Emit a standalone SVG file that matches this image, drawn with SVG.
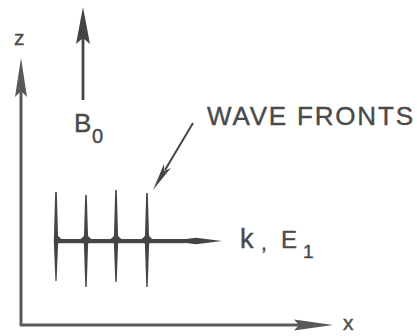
<svg xmlns="http://www.w3.org/2000/svg" width="417" height="336" viewBox="0 0 417 336">
<style>
.ink{fill:#454545}
.axis{stroke:#595959;stroke-width:3;fill:none}
.axhead{fill:#595959}
.txt{font-family:"Liberation Sans",Arial,sans-serif;fill:#4a4a4a;stroke:#4a4a4a;stroke-width:0.4}
</style>
<defs>
<g id="junc" class="ink">
<path d="M-12,0 A12,12 0 0 0 0,-12 L0,0Z"/>
<path d="M12,0 A12,12 0 0 1 0,-12 L0,0Z"/>
<path d="M-8,0 A8,8 0 0 1 0,8 L0,0Z"/>
<path d="M8,0 A8,8 0 0 0 0,8 L0,0Z"/>
</g>
</defs>
<rect width="417" height="336" fill="#ffffff"/>
<g id="connectors">
<g id="z-axis">
<line class="axis" x1="21" y1="326" x2="21" y2="90"/>
<polygon class="axhead" points="21,58 27,97 21,91 15,97"/>
</g>
<g id="x-axis">
<line class="axis" x1="20" y1="325" x2="300" y2="325"/>
<polygon class="axhead" points="333,325 294,319.5 299,325 294,330.5"/>
</g>
<g id="b0-arrow">
<line x1="83" y1="100" x2="83" y2="38" stroke="#454545" stroke-width="2.8"/>
<polygon class="ink" points="83,7 90,44 83,38 76,44"/>
</g>
<g id="leader">
<line x1="193" y1="123" x2="165" y2="170" stroke="#454545" stroke-width="2"/>
<polygon class="ink" points="153,190 164,164 164.3,171.1 170.8,168.1"/>
</g>
</g>
<g id="wave">
<rect class="ink" x="55" y="239" width="130" height="4.2"/>
<polygon class="ink" points="182,239.5 196,237.8 222,241 196,244.2 182,242.6"/>
<polygon class="ink" points="53.8,241 55.2,192 56.8,192 58.2,241 58.2,241 56.6,281 55.4,281 53.8,241"/>
<polygon class="ink" points="83.8,241 85.2,195 86.8,195 88.2,241 88.2,241 86.7,287 85.3,287 83.8,241"/>
<polygon class="ink" points="113.8,241 115.2,190 116.8,190 118.2,241 118.2,241 116.7,282 115.3,282 113.8,241"/>
<polygon class="ink" points="144.8,241 146.2,193 147.8,193 149.2,241 149.2,241 147.7,287 146.3,287 144.8,241"/>
<g class="ink">
<path d="M68,241 A12,12 0 0 1 56,229 L56,241Z"/>
<path d="M64,241 A8,8 0 0 0 56,249 L56,241Z"/>
</g>
<use href="#junc" x="86" y="241"/>
<use href="#junc" x="116" y="241"/>
<use href="#junc" x="147" y="241"/>
</g>
<g id="labels">
<text class="txt" x="14" y="45" font-size="21">z</text>
<text class="txt" x="343" y="330" font-size="21">x</text>
<text class="txt" x="74" y="132" font-size="26">B</text>
<text class="txt" x="92" y="143" font-size="20">0</text>
<text class="txt" x="207" y="125" font-size="26" textLength="206" lengthAdjust="spacing">WAVE FRONTS</text>
<text class="txt" x="240" y="248" font-size="27">k</text>
<text class="txt" x="261" y="250" font-size="21">,</text>
<text class="txt" x="281" y="248" font-size="24">E</text>
<text class="txt" x="303" y="258" font-size="19">1</text>
</g>
</svg>
